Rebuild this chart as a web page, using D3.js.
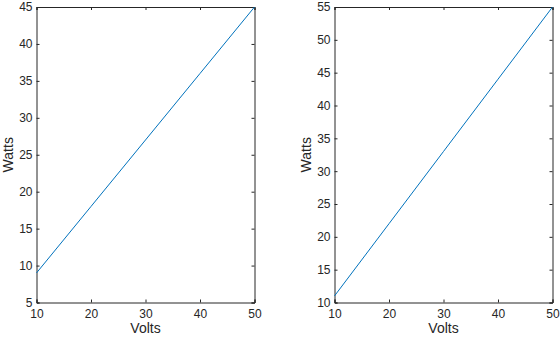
<!DOCTYPE html>
<html>
<head>
<meta charset="utf-8">
<script src="https://cdn.jsdelivr.net/npm/d3@7"></script>
<style>
  body { margin: 0; background: #fff; }
  svg text { font-family: "Liberation Sans", Arial, sans-serif; fill: #262626; }
</style>
</head>
<body>
<div id="chart"></div>
<script>
const volts = [10, 20, 30, 40, 50]
const wattsLeft = [9, 18, 27, 36, 45]
const wattsRight = [11, 22, 33, 44, 55]
const xTicks = [10, 20, 30, 40, 50]
const yTicksLeft = [5, 10, 15, 20, 25, 30, 35, 40, 45]
const yTicksRight = [10, 15, 20, 25, 30, 35, 40, 45, 50, 55]

const width = 560
const height = 337

const svg = d3.select("#chart").append("svg").attr("width", width).attr("height", height)

function drawPanel(left, right, watts, yDomain, yTicks) {
  const top = 7
  const bottom = 302.5

  const xScale = d3.scaleLinear().domain([10, 50]).range([left, right])
  const yScale = d3.scaleLinear().domain(yDomain).range([bottom, top])

  const g = svg.append("g")

  // bottom axis with labels
  g.append("g")
    .attr("transform", `translate(0,${bottom})`)
    .call(d3.axisBottom(xScale).tickValues(xTicks).tickSize(-3).tickPadding(6.5).tickFormat(d3.format("d")))
  // top axis, ticks only
  g.append("g")
    .attr("transform", `translate(0,${top})`)
    .call(d3.axisTop(xScale).tickValues(xTicks).tickSize(-3).tickFormat(""))
  // left axis with labels
  g.append("g")
    .attr("transform", `translate(${left},0)`)
    .call(d3.axisLeft(yScale).tickValues(yTicks).tickSize(-3).tickPadding(4).tickFormat(d3.format("d")))
  // right axis, ticks only
  g.append("g")
    .attr("transform", `translate(${right},0)`)
    .call(d3.axisRight(yScale).tickValues(yTicks).tickSize(-3).tickFormat(""))

  g.selectAll(".domain").attr("stroke", "#262626").attr("stroke-width", 1)
  g.selectAll(".tick line").attr("stroke", "#262626")
  g.selectAll(".tick text").attr("font-size", 12).attr("fill", "#262626")
    .style("font-family", '"Liberation Sans", Arial, sans-serif')

  const line = d3.line()
    .x((d, i) => xScale(volts[i]))
    .y((d) => yScale(d))

  g.append("path")
    .datum(watts)
    .attr("fill", "none")
    .attr("stroke", "#0072BD")
    .attr("stroke-width", 1)
    .attr("d", line)

  g.append("text")
    .attr("x", (left + right) / 2)
    .attr("y", 333)
    .attr("text-anchor", "middle")
    .attr("font-size", 14)
    .text("Volts")

  g.append("text")
    .attr("transform", `translate(${left - 24},${(top + bottom) / 2}) rotate(-90)`)
    .attr("text-anchor", "middle")
    .attr("font-size", 14)
    .text("Watts")
}

drawPanel(36.5, 254.5, wattsLeft, [5, 45], yTicksLeft)
drawPanel(334.5, 552.5, wattsRight, [10, 55], yTicksRight)
</script>
</body>
</html>
